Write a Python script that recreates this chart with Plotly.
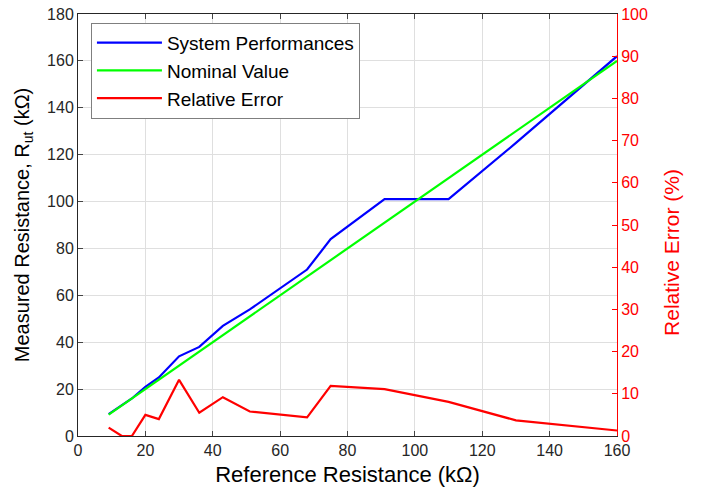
import plotly.graph_objects as go

ref_kohm = [9.1, 13, 16, 20, 24, 30, 36, 43, 51, 68, 75, 91, 110, 130, 160]
measured_kohm = [9.3, 13, 16, 21, 25, 34, 38, 47, 54, 71, 84, 101, 101, 125, 162]
nominal_kohm = [9.1, 13, 16, 20, 24, 30, 36, 43, 51, 68, 75, 91, 110, 130, 160]
rel_error_pct = [2.0, 0, 0, 5.0, 4.0, 13.3, 5.5, 9.2, 5.8, 4.4, 11.9, 11.1, 8.1, 3.7, 1.3]

x_ticks = [0, 20, 40, 60, 80, 100, 120, 140, 160]
y_left_ticks = [0, 20, 40, 60, 80, 100, 120, 140, 160, 180]
y_right_ticks = [0, 10, 20, 30, 40, 50, 60, 70, 80, 90, 100]

FONT = "Liberation Sans, Arial, sans-serif"
AX = "#262626"
GRID = "#dfdfdf"

fig = go.Figure()
fig.add_trace(go.Scatter(x=ref_kohm, y=measured_kohm, mode="lines", name="System Performances",
                         line=dict(color="#0000ff", width=2.2)))
fig.add_trace(go.Scatter(x=ref_kohm, y=nominal_kohm, mode="lines", name="Nominal Value",
                         line=dict(color="#00ff00", width=2.2)))
fig.add_trace(go.Scatter(x=ref_kohm, y=rel_error_pct, mode="lines", name="Relative Error",
                         line=dict(color="#ff0000", width=2.2), yaxis="y2"))

fig.update_layout(
    width=701, height=483,
    margin=dict(l=70, r=92, t=6, b=55, autoexpand=False),
    paper_bgcolor="white", plot_bgcolor="white",
    font=dict(family=FONT, size=16, color=AX),
    showlegend=True,
    legend=dict(x=0.024, y=0.979, xanchor="left", yanchor="top",
                bgcolor="white", bordercolor="#7f7f7f", borderwidth=1,
                font=dict(family=FONT, size=19, color="#000000"),
                itemwidth=65, tracegroupgap=0),
    xaxis=dict(range=[0, 160], tickvals=x_ticks, ticks="inside", ticklen=5,
               showline=True, linecolor=AX, linewidth=1, mirror="ticks",
               showgrid=True, gridcolor=GRID, gridwidth=1, zeroline=False,
               tickfont=dict(size=16, color=AX), automargin=False,
               ticklabeloverflow="allow",
               title=dict(text="Reference Resistance (kΩ)", font=dict(size=22, color="#000000"), standoff=8)),
    yaxis=dict(range=[0, 180], tickvals=y_left_ticks, ticks="inside", ticklen=5,
               showline=True, linecolor=AX, linewidth=1, mirror=False,
               showgrid=True, gridcolor=GRID, gridwidth=1, zeroline=False,
               tickfont=dict(size=16, color=AX), automargin=False,
               ticklabeloverflow="allow",
               title=dict(text="Measured Resistance, R<sub>ut</sub> (kΩ)", font=dict(size=20, color="#000000"), standoff=12)),
    yaxis2=dict(range=[0, 100], tickvals=y_right_ticks, ticks="inside", ticklen=5,
                overlaying="y", side="right", anchor="x",
                showline=True, linecolor="#ff0000", linewidth=1,
                showgrid=False, zeroline=False, automargin=False,
                ticklabeloverflow="allow",
                tickfont=dict(size=16, color="#ff0000"), tickcolor="#ff0000"),
    annotations=[dict(text="Relative Error (%)", textangle=-90, showarrow=False,
                      xref="paper", yref="paper", x=1.10, y=0.436,
                      xanchor="center", yanchor="middle",
                      font=dict(family=FONT, size=21, color="#ff0000"))],
)

fig.write_html("out.html")
